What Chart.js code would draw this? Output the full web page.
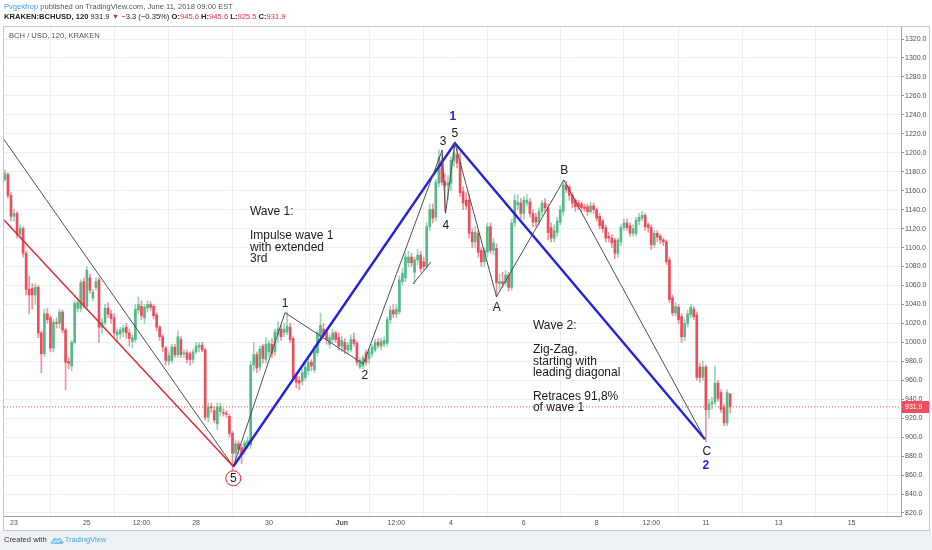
<!DOCTYPE html>
<html>
<head>
<meta charset="utf-8">
<title>BCH / USD, 120, KRAKEN</title>
<script src="https://cdn.jsdelivr.net/npm/chart.js@4.4.1/dist/chart.umd.min.js"></script>
<style>
  html, body { margin:0; padding:0; background:#ffffff; }
  body { width:932px; height:550px; position:relative; overflow:hidden; font-family:"Liberation Sans", Arial, sans-serif; }
  #footer { position:absolute; left:0; top:531px; width:932px; height:19px; background:#eef1f6; }
  #cv { position:absolute; left:0; top:0; }
  .hdr { position:absolute; left:4px; font-size:7.6px; white-space:nowrap; line-height:9px; }
  .r { color:#e0313d; }
  #ftr { position:absolute; left:4px; top:535px; font-size:7.6px; line-height:10px; color:#333; white-space:nowrap; }
  #ftr svg { vertical-align:middle; margin:0 1px 0 3px; }
</style>
</head>
<body>
<div id="footer"></div>
<canvas id="cv" width="932" height="550"></canvas>
<div class="hdr" style="top:2px;color:#555"><span style="color:#3d9ee3">Pvgekfrop</span> published on TradingView.com, June 11, 2018 09:00 EST</div>
<div class="hdr" style="top:11.5px;color:#222"><b>KRAKEN:BCHUSD, 120</b> 931.9 <span class="r">▼</span> −3.3 (−0.35%) <b>O:</b><span class="r">945.6</span> <b>H:</b><span class="r">945.6</span> <b>L:</b><span class="r">925.5</span> <b>C:</b><span class="r">931.9</span></div>
<div class="hdr" style="top:30.5px;left:9px;color:#555">BCH / USD, 120, KRAKEN</div>
<div id="ftr">Created with<svg width="14" height="9" viewBox="0 0 14 9"><path d="M2 8 C0 8 0 5 2.5 5 C2.5 2 6 1 7.5 3 C9 1 12.5 2 12 5 C14 5 14 8 12 8 Z" fill="#7cc4ee"/><path d="M3 7 L6 4.5 L8 6 L11 3.5" stroke="#ffffff" stroke-width="1" fill="none"/></svg><span style="color:#3fa8e8">TradingView</span></div>
<script>
// ---- 120-minute candles (index 0 = May 22 ~18:00, 12 candles per day) ----
const opens = [
1172,1177,1155,1133,1136,1114,1120,1094,1056,1057,
1050,1058,1010,988,1030,1026,994,1021,1020,1032,
1013,980,975,1000,1036,1036,1064,1038,1068,1047,
1058,1066,1016,1021,1036,1030,1026,1008,1009,1011,
1016,1010,1001,1003,1034,1038,1026,1036,1040,1038,
1029,1016,1006,994,980,981,995,987,1003,988,
989,988,982,990,995,997,992,921,932,928,
914,927,926,925,922,904,883,893,889,886,
892,892,976,987,974,996,982,990,998,990,
1008,1014,1010,1011,1016,1004,964,960,959,963,
970,979,971,989,1006,1014,1011,998,1003,1010,
1005,996,1000,992,992,1003,999,974,975,989,
983,988,992,1000,996,998,999,1024,1034,1030,
1032,1064,1068,1084,1090,1074,1087,1092,1085,1080,
1122,1140,1132,1168,1192,1170,1166,1168,1192,1198,
1190,1159,1150,1150,1116,1106,1115,1097,1085,1095,
1122,1097,1099,1062,1064,1063,1071,1058,1126,1145,
1147,1136,1147,1148,1136,1132,1127,1138,1147,1142,
1121,1110,1116,1127,1138,1166,1164,1155,1150,1147,
1146,1143,1143,1138,1144,1140,1133,1128,1121,1112,
1110,1108,1094,1106,1121,1126,1123,1115,1115,1128,
1131,1134,1124,1121,1103,1115,1112,1108,1106,1087,
1047,1031,1037,1027,1006,1020,1029,1035,1029,974,
963,974,929,935,937,957,947,932,915,945.6
];
const highs = [
1182,1179,1158,1140,1138,1124,1122,1096,1070,1062,
1062,1060,1012,1035,1036,1028,1024,1026,1035,1034,
1015,984,1002,1044,1046,1066,1068,1080,1072,1056,
1068,1068,1025,1040,1042,1034,1030,1014,1016,1018,
1020,1014,1008,1040,1048,1044,1040,1044,1043,1040,
1031,1018,1008,996,990,998,998,1012,1006,992,
992,990,993,1000,1000,1000,994,936,936,932,
936,936,930,928,924,906,897,896,892,897,
900,980,1000,990,996,998,1005,1002,1004,1014,
1022,1018,1020,1032,1020,1006,968,964,972,978,
984,982,996,1012,1031,1020,1014,1008,1014,1012,
1010,1006,1004,1000,1008,1010,1001,984,986,992,
993,998,1003,1004,1004,1006,1027,1038,1040,1040,
1070,1078,1094,1096,1094,1090,1098,1096,1090,1126,
1146,1146,1172,1203,1198,1178,1176,1196,1210,1206,
1200,1164,1158,1156,1120,1122,1118,1100,1100,1126,
1126,1110,1104,1072,1074,1076,1074,1130,1156,1156,
1152,1154,1156,1152,1140,1136,1142,1150,1152,1146,
1126,1124,1132,1144,1171,1170,1166,1158,1152,1150,
1148,1146,1146,1148,1147,1142,1136,1130,1124,1116,
1114,1110,1110,1124,1130,1130,1126,1124,1132,1136,
1138,1136,1126,1124,1118,1118,1114,1110,1108,1090,
1050,1042,1040,1030,1024,1034,1040,1038,1032,978,
980,976,940,942,975,960,950,935,950,945.6
];
const lows = [
1170,1152,1128,1128,1110,1112,1090,1050,1030,1035,
1040,1005,968,985,1020,990,990,1015,1015,1010,
950,972,970,998,1032,1032,1036,1034,1052,1044,
1055,1000,1010,1018,1026,1020,1006,1000,1004,1006,
1004,996,994,1000,1030,1024,1020,1032,1034,1025,
1012,1002,990,976,976,978,984,984,984,984,
978,976,978,988,990,990,918,916,926,915,
908,922,922,921,900,865,876,882,872,882,
888,888,970,968,970,978,978,985,984,986,
1000,1002,1006,1008,1000,960,952,950,955,960,
966,970,968,986,1002,1006,998,994,1000,1000,
992,990,988,988,990,996,976,972,972,976,
978,985,990,994,992,995,996,1020,1026,1026,
1030,1060,1064,1080,1080,1062,1082,1074,1076,1078,
1118,1126,1128,1164,1166,1138,1150,1160,1186,1184,
1154,1140,1140,1110,1100,1100,1090,1080,1080,1090,
1094,1092,1048,1056,1058,1060,1054,1055,1122,1140,
1130,1130,1144,1132,1122,1122,1124,1134,1138,1108,
1106,1106,1112,1124,1134,1158,1150,1142,1138,1140,
1138,1138,1134,1136,1136,1128,1120,1116,1106,1106,
1100,1088,1090,1102,1118,1118,1112,1112,1112,1124,
1128,1118,1116,1098,1100,1106,1104,1102,1082,1042,
1028,1028,1020,1000,1002,1016,1026,1024,960,958,
960,895,920,930,934,938,926,912,912,925.5
];
const closes = [
1178,1155,1133,1136,1114,1120,1094,1056,1050,1050,
1058,1010,988,1030,1024,994,1021,1020,1032,1013,
979,978,1000,1041,1042,1063,1039,1076,1055,1053,
1064,1016,1021,1036,1030,1025,1010,1011,1013,1015,
1010,1004,1005,1035,1040,1028,1037,1040,1037,1028,
1016,1006,995,981,986,995,987,1006,987,988,
982,982,990,996,997,992,921,932,931,918,
932,932,925,924,904,883,893,887,882,894,
896,976,987,973,993,983,998,999,988,1011,
1014,1006,1014,1017,1003,963,958,957,968,974,
979,975,992,1010,1018,1009,1003,1005,1010,1003,
996,1002,992,997,1003,999,979,981,983,979,
990,995,1000,997,1001,1002,1024,1034,1030,1035,
1066,1073,1090,1090,1084,1087,1092,1078,1080,1122,
1140,1131,1169,1195,1169,1165,1168,1192,1200,1189,
1158,1147,1144,1115,1106,1116,1095,1085,1097,1122,
1097,1105,1063,1064,1062,1071,1058,1126,1150,1148,
1136,1150,1150,1136,1127,1127,1138,1147,1142,1116,
1110,1118,1128,1140,1166,1161,1155,1147,1143,1143,
1142,1141,1138,1144,1140,1131,1123,1120,1110,1110,
1105,1094,1108,1121,1126,1121,1115,1120,1129,1132,
1134,1122,1121,1103,1115,1111,1108,1106,1085,1045,
1031,1038,1024,1006,1020,1030,1037,1027,963,963,
974,929,935,937,957,941,929,915,947,931.9
];

// ---- axis ticks ----
const xTickIdx  = [3, 27, 45, 63, 87, 111, 129, 147, 171, 195, 213, 231, 255, 279];
const xTickText = ['23','25','12:00','28','30','Jun','12:00','4','6','8','12:00','11','13','15'];
const yTickVals = [820,840,860,880,900,920,940,960,980,1000,1020,1040,1060,1080,1100,1120,1140,1160,1180,1200,1220,1240,1260,1280,1300,1320];
const lastPrice = 931.9;

// ---- drawings (candle index, price) ----
const trendGray = [[-0.3,1214],[75.25,869]];
const trendRed  = [[-0.3,1129],[75.25,869]];
const waveGray  = [[75.25,869],[92.3,1031.3],[118.1,977.2],[144.1,1202.9],[145.2,1136.1],[148.3,1210],[162.0,1048.2],[184.2,1171.3],[230.7,897.7]];
const subGray   = [[134.5,1061.6],[140.4,1084.8]];
const waveBlue  = [[75.25,869],[148.3,1210],[230.7,897.7]];
const circled5  = [75.25, 856.6];

const waveLabels = [
  ['1',147.6,1237.7,'blue'], ['5',148.3,1220.5,''], ['3',144.4,1211.3,''], ['4',145.3,1122.7,''],
  ['A',162.1,1036.2,''], ['B',184.3,1181,''], ['C',231.3,884.3,''], ['2',231,869.6,'blue'],
  ['1',92.3,1041.2,''], ['2',118.6,964.5,''], ['5',75.25,856.6,'']
];
const noteWave1 = [['Wave 1:',1137.8],['Impulse wave 1',1112.5],['with extended',1100.3],['3rd',1088.7]];
const noteWave2 = [['Wave 2:',1017.3],['Zig-Zag,',991.9],['starting with',979.8],['leading diagonal',967.7],['Retraces 91,8%',942.9],['of wave 1',931.3]];
const noteWave1X = 80.76, noteWave2X = 174.0;

// ---- build datasets ----
const UP = '#53b987', DOWN = '#eb4d5c';
const UPW = 'rgba(83,185,135,0.6)', DOWNW = 'rgba(235,77,92,0.6)';
const isUp = closes.map((c,i) => c >= opens[i]);
const bodyData = opens.map((o,i) => ({x:i, y:[o, closes[i]]}));
const wickData = lows.map((l,i) => ({x:i, y:[l, highs[i]]}));
const pts = arr => arr.map(p => ({x:p[0], y:p[1]}));
const FONT = '"Liberation Sans", Arial, sans-serif';
const BLUE = '#2323dc';

const lineDs = (data, color, width, dash) => ({
  type:'line', data: pts(data), borderColor: color, borderWidth: width, borderDash: dash || [],
  pointRadius: 0, fill: false, tension: 0, order: 1
});

const overlay = {
  id: 'overlay',
  beforeDraw(chart) {
    const c = chart.ctx;
    c.save(); c.fillStyle = '#ffffff'; c.fillRect(3, 26, 927, 505); c.restore();
  },
  afterDatasetsDraw(chart) {
    const {ctx, scales:{x, y}} = chart;
    ctx.save();
    // circle around the 5
    ctx.strokeStyle = '#e2222a'; ctx.lineWidth = 1;
    ctx.beginPath();
    ctx.arc(x.getPixelForValue(circled5[0]), y.getPixelForValue(circled5[1]), 7.5, 0, Math.PI*2);
    ctx.stroke();
    ctx.textAlign = 'center'; ctx.textBaseline = 'middle';
    for (const [t, i, p, c] of waveLabels) {
      ctx.font = (c === 'blue' ? 'bold 12px ' : '12px ') + FONT;
      ctx.fillStyle = c === 'blue' ? BLUE : '#1a1a1a';
      ctx.fillText(t, x.getPixelForValue(i), y.getPixelForValue(p));
    }
    ctx.textAlign = 'left'; ctx.font = '12px ' + FONT; ctx.fillStyle = '#1a1a1a';
    for (const [t, p] of noteWave1) ctx.fillText(t, x.getPixelForValue(noteWave1X), y.getPixelForValue(p));
    for (const [t, p] of noteWave2) ctx.fillText(t, x.getPixelForValue(noteWave2X), y.getPixelForValue(p));
    ctx.restore();
  },
  afterDraw(chart) {
    const {ctx, chartArea, scales:{y}} = chart;
    ctx.save();
    const yp = y.getPixelForValue(lastPrice);
    ctx.fillStyle = '#ef4f5e';
    ctx.fillRect(chartArea.right + 1, Math.round(yp) - 6, 27, 12);
    ctx.fillStyle = '#ffffff'; ctx.font = '7px ' + FONT;
    ctx.textAlign = 'left'; ctx.textBaseline = 'middle';
    ctx.fillText(lastPrice.toFixed(1), chartArea.right + 4, yp);
    ctx.strokeStyle = '#c5c9cf'; ctx.lineWidth = 1;
    ctx.strokeRect(3.5, 26.5, 926, 504);
    ctx.restore();
  }
};

new Chart(document.getElementById('cv'), {
  type: 'bar',
  data: {
    datasets: [
      lineDs(trendRed, '#e2222a', 1.4),
      lineDs(trendGray, '#505050', 1),
      lineDs(waveGray, '#505050', 1),
      lineDs(subGray, '#505050', 1),
      lineDs(waveBlue, BLUE, 2.4),
      lineDs([[-0.3, lastPrice],[295.3, lastPrice]], '#ef5350', 1, [1,2]),
      { type:'bar', data: bodyData, backgroundColor: isUp.map(u => u ? UP : DOWN),
        barThickness: 2, minBarLength: 1, grouped: false, borderWidth: 0, order: 5 },
      { type:'bar', data: wickData, backgroundColor: isUp.map(u => u ? UPW : DOWNW),
        barThickness: 1, grouped: false, borderWidth: 0, order: 6 }
    ]
  },
  options: {
    responsive: false, animation: false, events: [],
    layout: { padding: { left: 4, top: 27, right: 3, bottom: 20 } },
    plugins: { legend: { display: false }, tooltip: { enabled: false } },
    scales: {
      x: {
        type: 'linear', min: -0.3, max: 295.3, offset: false,
        afterBuildTicks(s) { s.ticks = xTickIdx.map(v => ({value: v})); },
        afterFit(s) { s.height = 14; },
        grid: { color: '#eceff3', drawTicks: false },
        border: { color: '#9ea2a8' },
        ticks: {
          autoSkip: false, maxRotation: 0, padding: 3, color: '#4a4f57',
          font: (ctx) => ({ family: FONT, size: 7, weight: (ctx.tick && ctx.tick.value === 111) ? 'bold' : 'normal' }),
          callback: (v) => { const k = xTickIdx.indexOf(v); return k >= 0 ? xTickText[k] : ''; }
        }
      },
      y: {
        type: 'linear', position: 'right', min: 816.8, max: 1332.7,
        afterBuildTicks(s) { s.ticks = yTickVals.map(v => ({value: v})); },
        afterFit(s) { s.width = 28; },
        grid: { color: '#eceff3', tickLength: 3, tickColor: '#8d9197' },
        border: { color: '#9ea2a8' },
        ticks: { padding: 1, color: '#4a4f57', font: { family: FONT, size: 7 }, callback: (v) => Number(v).toFixed(1) }
      }
    }
  },
  plugins: [overlay]
});
</script>
</body>
</html>
